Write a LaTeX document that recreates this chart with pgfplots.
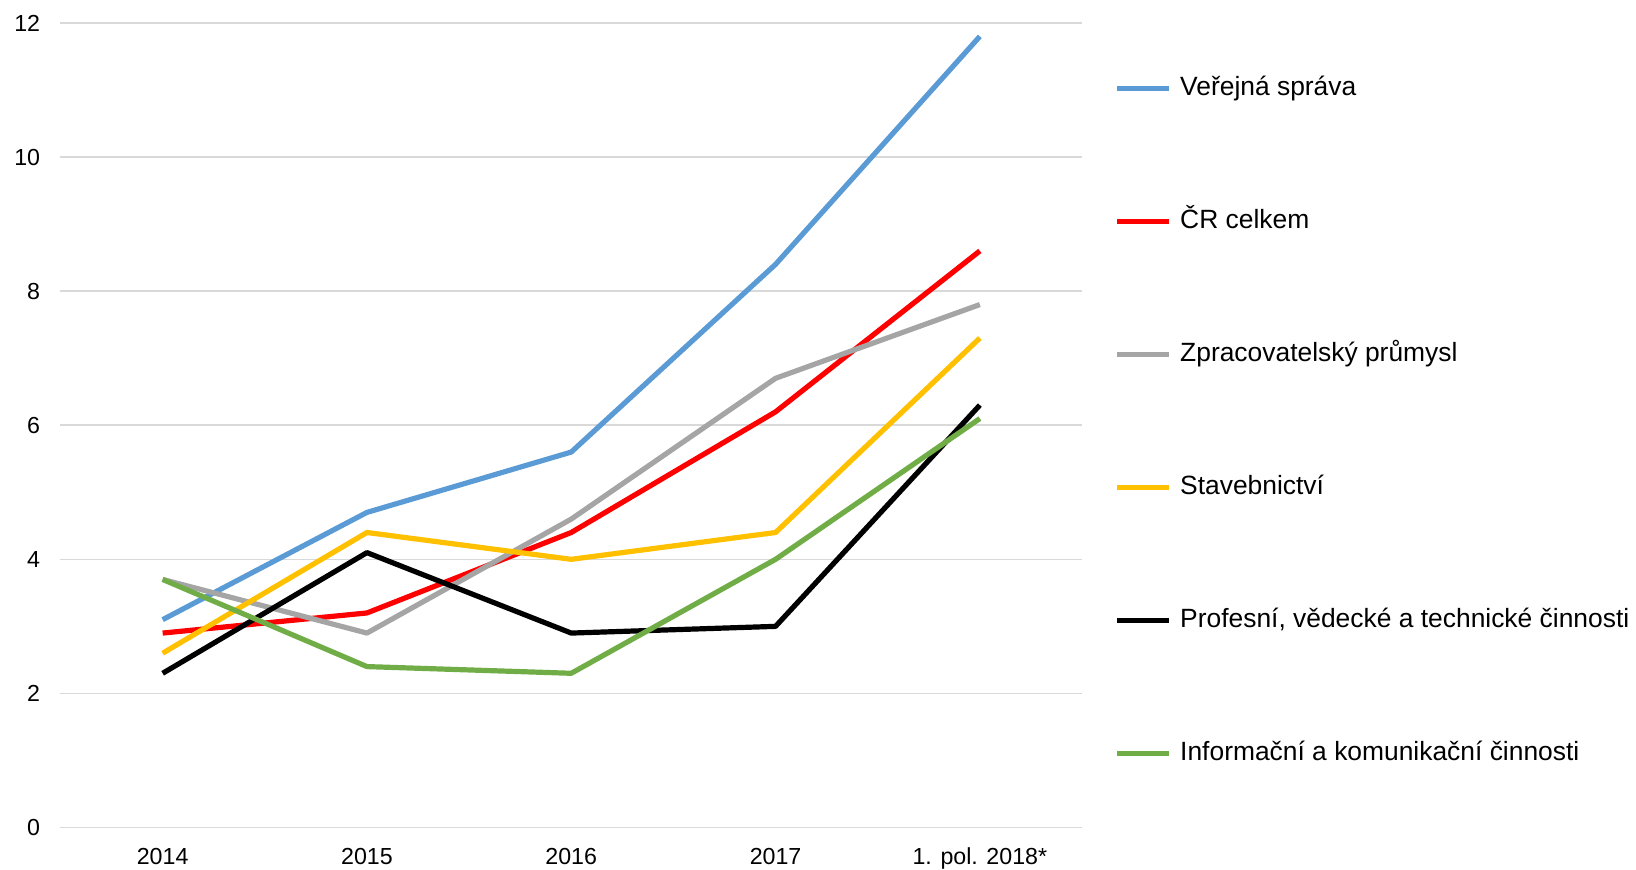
\documentclass[border=0pt]{standalone}
\usepackage{pgfplots}
\pgfplotsset{compat=1.18}
\usepackage{fontspec}
\setmainfont{Liberation Sans}
\definecolor{cblue}{HTML}{5B9BD5}
\definecolor{cred}{HTML}{FF0000}
\definecolor{cgray}{HTML}{A5A5A5}
\definecolor{cyellow}{HTML}{FFC000}
\definecolor{cgreen}{HTML}{70AD47}
\definecolor{cgrid}{HTML}{D9D9D9}
\begin{document}
\begin{tikzpicture}
\begin{axis}[
  scale only axis,
  width=510.75pt, height=402.25pt,
  xmin=-0.5, xmax=4.5, ymin=0, ymax=12,
  xtick={0,1,2,3,4},
  xticklabels={2014,2015,2016,2017,1. pol. 2018*},
  ytick={0,2,4,6,8,10,12},
  axis line style={draw=none},
  major tick length=0pt,
  ymajorgrids,
  grid style={cgrid, line width=0.8pt},
  /pgf/number format/assume math mode=true,
  tick label style={font=\fontsize{11.6pt}{13pt}\selectfont, inner sep=0pt},
  yticklabel style={anchor=east, xshift=-10pt},
  xticklabel style={anchor=north, yshift=-10pt},
  clip=false,
  legend cell align=left,
  legend style={draw=none, fill=none, at={(1,1)}, anchor=north west,
    xshift=16pt, yshift=-26pt, inner sep=0pt,
    font=\fontsize{13.2pt}{15pt}\selectfont,
    row sep=53.5pt,
    nodes={inner sep=0pt, text height=10pt, text depth=3pt},
    /tikz/every odd column/.style={column sep=4.3pt}},
  legend image code/.code={\path (0pt,0pt) -- (26pt,0pt);\draw[#1, line cap=round] (1.3pt,0pt) -- (24.7pt,0pt);},
  every axis plot/.append style={line width=2.6pt, line join=round},
]
\addplot[cblue] coordinates {(0,3.1) (1,4.7) (2,5.6) (3,8.4) (4,11.8)};
\addlegendentry{Veřejná správa}
\addplot[cred] coordinates {(0,2.9) (1,3.2) (2,4.4) (3,6.2) (4,8.6)};
\addlegendentry{ČR celkem}
\addplot[cgray] coordinates {(0,3.7) (1,2.9) (2,4.6) (3,6.7) (4,7.8)};
\addlegendentry{Zpracovatelský průmysl}
\addplot[cyellow] coordinates {(0,2.6) (1,4.4) (2,4.0) (3,4.4) (4,7.3)};
\addlegendentry{Stavebnictví}
\addplot[black] coordinates {(0,2.3) (1,4.1) (2,2.9) (3,3.0) (4,6.3)};
\addlegendentry{Profesní, vědecké a technické činnosti}
\addplot[cgreen] coordinates {(0,3.7) (1,2.4) (2,2.3) (3,4.0) (4,6.1)};
\addlegendentry{Informační a komunikační činnosti}
\end{axis}
\pgfresetboundingbox
\path (current axis.south west) ++(-30.25pt,-21.25pt) rectangle ++(818pt,435pt);
\end{tikzpicture}
\end{document}
